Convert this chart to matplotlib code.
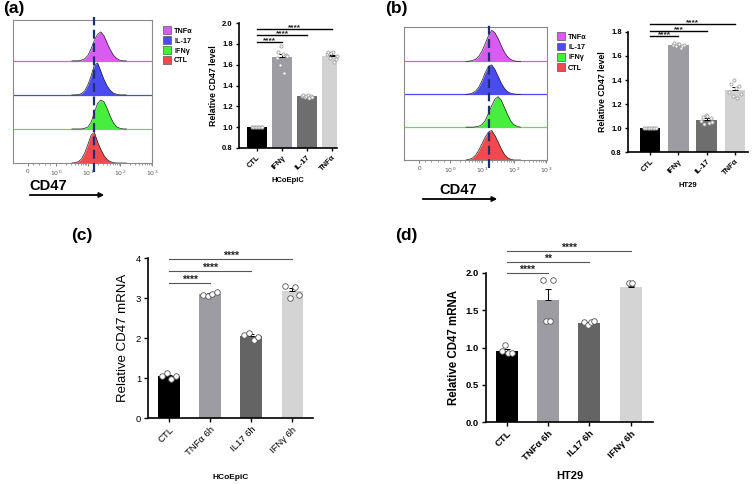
import numpy as np
import matplotlib
matplotlib.use("Agg")
import matplotlib.pyplot as plt
from matplotlib.patches import Patch

plt.rcParams["font.family"] = ["Liberation Sans", "DejaVu Sans"]

W, H = 754, 484

# ---- flow histograms (counts per bin, scaled to lane height) ----
hist_bins = [0.5, 0.6, 0.7, 0.8, 0.9, 1.0, 1.1, 1.2, 1.3, 1.4, 1.5, 1.6, 1.7, 1.8, 1.9, 2.0, 2.1, 2.2]
hist_labels = ["TNFα", "IL-17", "IFNγ", "CTL"]

a_tnf = [0, 0, 0, 0.02, 0.06, 0.16, 0.36, 0.6, 0.78, 0.85, 0.74, 0.52, 0.32, 0.16, 0.07, 0.02, 0, 0]
a_il17 = [0, 0, 0.01, 0.04, 0.12, 0.3, 0.56, 0.88, 0.94, 0.7, 0.45, 0.26, 0.13, 0.05, 0.02, 0, 0, 0]
a_ifn = [0, 0, 0, 0, 0.02, 0.06, 0.2, 0.48, 0.75, 0.85, 0.8, 0.6, 0.36, 0.17, 0.06, 0.02, 0, 0]
a_ctl = [0, 0.01, 0.04, 0.12, 0.3, 0.55, 0.82, 0.9, 0.62, 0.4, 0.22, 0.1, 0.04, 0.01, 0, 0, 0, 0]

b_tnf = [0, 0.01, 0.03, 0.07, 0.16, 0.32, 0.55, 0.78, 0.95, 0.88, 0.7, 0.48, 0.28, 0.14, 0.06, 0.02, 0, 0]
b_il17 = [0, 0.01, 0.04, 0.1, 0.22, 0.42, 0.66, 0.85, 0.9, 0.76, 0.55, 0.34, 0.18, 0.08, 0.03, 0.01, 0, 0]
b_ifn = [0, 0, 0, 0.01, 0.03, 0.08, 0.2, 0.42, 0.65, 0.85, 0.93, 0.82, 0.6, 0.38, 0.18, 0.07, 0.02, 0]
b_ctl = [0, 0.02, 0.06, 0.15, 0.3, 0.5, 0.7, 0.85, 0.9, 0.75, 0.55, 0.34, 0.17, 0.07, 0.02, 0, 0, 0]

hist_ticklabels = ["0", r"$10^0$", r"$10^1$", r"$10^2$", r"$10^3$"]

# ---- flow summary bars ----
flow_cats = ["CTL", "IFNγ", "IL-17", "TNFα"]
a_means = [1.0, 1.67, 1.30, 1.68]
a_sems = [0.003, 0.03, 0.005, 0.012]
a_pts = [
    [1.0, 1.0, 1.0, 1.0, 1.0, 1.0, 1.0, 1.0],
    [1.66, 1.72, 1.60, 1.78, 1.70, 1.52, 1.69, 1.68],
    [1.30, 1.31, 1.29, 1.30, 1.31, 1.28, 1.30, 1.29],
    [1.70, 1.72, 1.66, 1.71, 1.72, 1.63, 1.65, 1.68],
]
b_means = [1.0, 1.69, 1.07, 1.32]
b_sems = [0.003, 0.005, 0.012, 0.025]
b_pts = [
    [1.0, 1.0, 1.0, 1.0, 1.0, 1.0, 1.0, 1.0],
    [1.69, 1.71, 1.68, 1.70, 1.70, 1.67, 1.68, 1.69],
    [1.06, 1.09, 1.03, 1.11, 1.10, 1.04, 1.08, 1.05],
    [1.30, 1.37, 1.27, 1.40, 1.33, 1.25, 1.35, 1.28],
]
flow_sig_targets = [1, 2, 3]
a_sig_labels = ["****", "****", "****"]
b_sig_labels = ["****", "***", "****"]

# ---- mRNA bars ----
mrna_cats = ["CTL", "TNFα 6h", "IL17 6h", "IFNγ 6h"]
c_means = [1.05, 3.10, 2.05, 3.17]
c_sems = [0.03, 0.02, 0.04, 0.07]
c_pts = [
    [1.05, 1.12, 0.98, 1.04],
    [3.07, 3.05, 3.10, 3.15],
    [2.08, 2.12, 1.95, 2.03],
    [3.30, 3.00, 3.28, 3.08],
]
d_means = [0.95, 1.64, 1.33, 1.81]
d_sems = [0.03, 0.14, 0.01, 0.02]
d_pts = [
    [0.95, 1.04, 0.92, 0.92],
    [1.90, 1.35, 1.35, 1.90],
    [1.34, 1.30, 1.34, 1.35],
    [1.87, 1.87],
]
mrna_sig_targets = [1, 2, 3]
c_sig_labels = ["****", "****", "****"]
d_sig_labels = ["****", "**", "****"]


hist_colors = ["#d85cf2", "#4a4cf2", "#48ee3e", "#f24a4c"]
bar_colors_flow = ["#000000", "#9c9ca2", "#6e6e6e", "#d2d2d2"]
bar_colors_mrna = ["#000000", "#9c9ca2", "#646464", "#d4d4d4"]


def place(fig, l, t, r, b):
    return fig.add_axes([l / W, 1 - b / H, (r - l) / W, (b - t) / H])


def draw_hist(ax, curves, xlim, ylim, tick_pos, dash_x):
    x = np.array(hist_bins)
    for i, (curve, color) in enumerate(zip(curves, hist_colors)):
        base = 3 - i
        y = base + np.array(curve)
        ax.fill_between(x, base, y, color=color, lw=0, zorder=2)
        ax.plot(x, y, color="#222222", lw=0.5, zorder=3)
        if base > 0:
            ax.axhline(base, color=color, lw=0.9, zorder=1)
    ax.plot([dash_x, dash_x], [ylim[0] - 0.25, ylim[1] + 0.1], ls=(0, (4, 2)),
            color="#1c2f70", lw=1.6, clip_on=False, zorder=5)
    ax.set_xlim(*xlim)
    ax.set_ylim(*ylim)
    ax.set_yticks([])
    ax.set_xticks(tick_pos, hist_ticklabels)
    minor = [d + np.log10(k) for d in (0, 1, 2) for k in range(2, 10)]
    minor += list(np.linspace(tick_pos[0], 0, 6)[1:-1])
    ax.set_xticks(minor, minor=True)
    ax.tick_params(axis="x", labelsize=4.5, colors="#555555", length=2, width=0.5, pad=2)
    ax.tick_params(axis="x", which="minor", length=1.2, width=0.4, color="#555555")
    for s in ax.spines.values():
        s.set_color("#8a8a8a")
        s.set_linewidth(0.8)


def draw_bars(ax, cats, means, sems, pts, colors, width, spread, msize, medge):
    x = np.arange(len(cats))
    ax.bar(x, means, width=width, color=colors, edgecolor="none", zorder=2)
    ax.errorbar(x, means, yerr=[np.zeros(len(sems)), sems], fmt="none",
                ecolor="black", elinewidth=0.7, capsize=2, capthick=0.7, zorder=3)
    for xi, p in zip(x, pts):
        n = len(p)
        half = spread * (n - 1) / 3 if n < 4 else spread
        xs = xi + np.linspace(-half, half, n)
        ax.scatter(xs, p, s=msize, facecolor="white", edgecolor=medge,
                   linewidth=0.6, zorder=4, clip_on=False)
    for side in ("top", "right"):
        ax.spines[side].set_visible(False)
    for side in ("left", "bottom"):
        ax.spines[side].set_linewidth(1.2)
    ax.set_xticks(x)


def draw_sig(ax, targets, levels, labels, color, lw, fs, off):
    for t, lev, lab in zip(targets, levels, labels):
        ax.plot([0, t], [lev, lev], color=color, lw=lw, clip_on=False, zorder=5)
        ax.text(t / 2, lev + off, lab, ha="center", va="bottom", fontsize=fs,
                weight="bold", color="#222222", clip_on=False)


fig = plt.figure(figsize=(W / 100, H / 100), dpi=100)

# (a) histogram
ax = place(fig, 13, 20, 152, 163)
draw_hist(ax, [a_tnf, a_il17, a_ifn, a_ctl], (-1.34, 3.0), (0, 4.2),
          [-0.875, 0, 1, 2, 3], 1.19)
ax.legend(handles=[Patch(facecolor=c, edgecolor="#555555", lw=0.5) for c in hist_colors],
          labels=hist_labels, loc="upper left", bbox_to_anchor=(156 / W, 1 - 20 / H),
          bbox_transform=fig.transFigure, frameon=False,
          handlelength=1.2, handleheight=1.2, handletextpad=0.4, labelspacing=0.25,
          prop={"weight": "bold", "size": 5.2})

# (b) histogram
ax = place(fig, 404, 27, 547, 160)
draw_hist(ax, [b_tnf, b_il17, b_ifn, b_ctl], (-1.44, 3.03), (0, 4.05),
          [-0.97, 0, 1, 2, 3], 1.22)
ax.legend(handles=[Patch(facecolor=c, edgecolor="#555555", lw=0.5) for c in hist_colors],
          labels=hist_labels, loc="upper left", bbox_to_anchor=(550 / W, 1 - 26 / H),
          bbox_transform=fig.transFigure, frameon=False,
          handlelength=1.2, handleheight=1.2, handletextpad=0.4, labelspacing=0.3,
          prop={"weight": "bold", "size": 5.2})

# CD47 axis captions with arrows
for cx, cy, x0, x1, ay in [(48, 186, 27, 107, 195), (458, 190, 420, 500, 199)]:
    fig.text(cx / W, 1 - cy / H, "CD47", ha="center", va="center", fontsize=10.5, weight="bold")
    fig.add_artist(matplotlib.patches.FancyArrowPatch(
        (x0 / W, 1 - ay / H), (x1 / W, 1 - ay / H), transform=fig.transFigure,
        arrowstyle="-|>", mutation_scale=7, lw=1.3, color="black"))

# (a) bars
ax = place(fig, 239, 23, 337, 148)
draw_bars(ax, flow_cats, a_means, a_sems, a_pts, bar_colors_flow, 0.78, 0.2, 5, "#a0a0a0")
ax.set_xlim(-0.72, 3.2)
ax.set_ylim(0.8, 2.0)
ax.set_yticks([0.8, 1.0, 1.2, 1.4, 1.6, 1.8, 2.0])
ax.yaxis.set_major_formatter(matplotlib.ticker.FormatStrFormatter("%.1f"))
ax.set_xticklabels(flow_cats, rotation=45, ha="right", rotation_mode="anchor")
ax.tick_params(labelsize=5.5, length=2.5, width=1, pad=2)
for lab in ax.get_xticklabels() + ax.get_yticklabels():
    lab.set_fontweight("bold")
ax.set_ylabel("Relative CD47 level", fontsize=6.3, weight="bold", labelpad=3)
ax.set_xlabel("HCoEpiC", fontsize=5.5, weight="bold", labelpad=3)
draw_sig(ax, flow_sig_targets, [1.82, 1.885, 1.945], a_sig_labels, "black", 1.0, 6, -0.025)

# (b) bars
ax = place(fig, 628, 32, 748, 152)
draw_bars(ax, flow_cats, b_means, b_sems, b_pts, bar_colors_flow, 0.72, 0.2, 5, "#a0a0a0")
ax.set_xlim(-0.78, 3.46)
ax.set_ylim(0.8, 1.8)
ax.set_yticks([0.8, 1.0, 1.2, 1.4, 1.6, 1.8])
ax.yaxis.set_major_formatter(matplotlib.ticker.FormatStrFormatter("%.1f"))
ax.set_xticklabels(flow_cats, rotation=45, ha="right", rotation_mode="anchor")
ax.tick_params(labelsize=5.5, length=2.5, width=1, pad=2)
for lab in ax.get_xticklabels() + ax.get_yticklabels():
    lab.set_fontweight("bold")
ax.set_ylabel("Relative CD47 level", fontsize=6.3, weight="bold", labelpad=3)
ax.set_xlabel("HT29", fontsize=5.5, weight="bold", labelpad=4)
draw_sig(ax, flow_sig_targets, [1.765, 1.81, 1.87], b_sig_labels, "black", 1.0, 6, -0.02)

# (c) mRNA HCoEpiC
ax = place(fig, 148, 258, 313, 418)
draw_bars(ax, mrna_cats, c_means, c_sems, c_pts, bar_colors_mrna, 0.53, 0.17, 16, "#555555")
ax.set_xlim(-0.51, 3.5)
ax.set_ylim(0, 4)
ax.set_yticks([0, 1, 2, 3, 4])
ax.set_xticklabels(mrna_cats, rotation=45, ha="right", rotation_mode="anchor")
ax.tick_params(labelsize=6.8, length=3, width=1, pad=2)
ax.set_ylabel("Relative CD47 mRNA", fontsize=9.5, labelpad=5)
ax.set_xlabel("HCoEpiC", fontsize=6, weight="bold", labelpad=12)
draw_sig(ax, mrna_sig_targets, [3.38, 3.68, 3.98], c_sig_labels, "#555555", 0.8, 7.5, -0.06)

# (d) mRNA HT29
ax = place(fig, 486, 273, 653, 422)
draw_bars(ax, mrna_cats, d_means, d_sems, d_pts, bar_colors_mrna, 0.53, 0.12, 16, "#555555")
ax.set_xlim(-0.5, 3.54)
ax.set_ylim(0, 2)
ax.set_yticks([0, 0.5, 1.0, 1.5, 2.0])
ax.yaxis.set_major_formatter(matplotlib.ticker.FormatStrFormatter("%.1f"))
ax.set_xticklabels(mrna_cats, rotation=45, ha="right", rotation_mode="anchor")
ax.tick_params(labelsize=6.8, length=3, width=1, pad=2)
for lab in ax.get_xticklabels() + ax.get_yticklabels():
    lab.set_fontweight("bold")
ax.set_ylabel("Relative CD47 mRNA", fontsize=8.3, weight="bold", labelpad=4)
ax.set_xlabel("HT29", fontsize=8, weight="bold", labelpad=6)
draw_sig(ax, mrna_sig_targets, [2.0, 2.15, 2.3], d_sig_labels, "#555555", 0.8, 7.5, -0.03)

# panel letters
for px, py, lab in [(14, 9, "(a)"), (396, 9, "(b)"), (82, 236, "(c)"), (406, 236, "(d)")]:
    fig.text(px / W, 1 - py / H, lab, ha="center", va="center", fontsize=12.5, weight="bold")

fig.savefig("out.png", dpi=100)
